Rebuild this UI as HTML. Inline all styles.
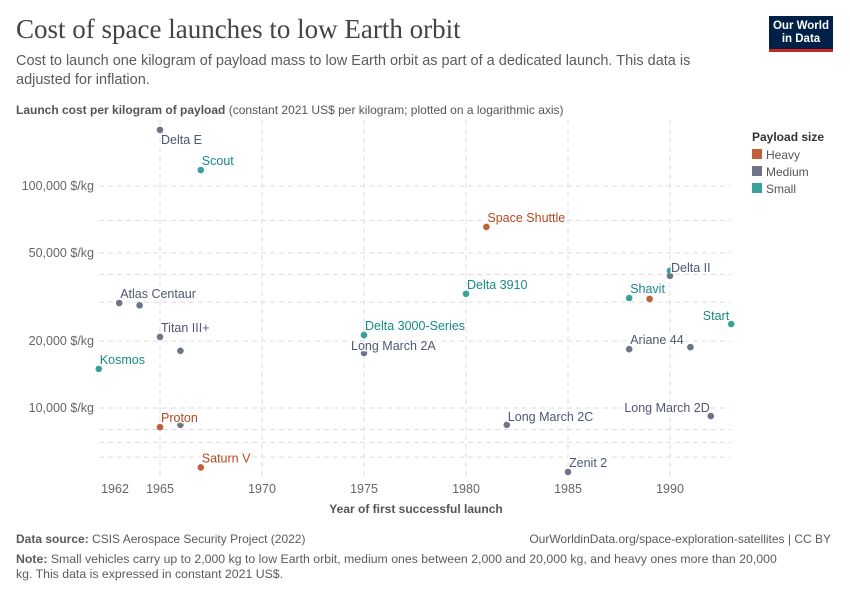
<!DOCTYPE html>
<html><head><meta charset="utf-8"><style>
body{margin:0;width:850px;height:600px;background:#fff;font-family:"Liberation Sans",sans-serif;position:relative;overflow:hidden}
.abs{position:absolute}
</style></head><body>
<div class="abs" style="left:16px;top:14px;font-family:'Liberation Serif',serif;font-size:27px;color:#444;">Cost of space launches to low Earth orbit</div>
<div class="abs" style="left:16px;top:52px;width:720px;font-size:14.5px;line-height:19px;color:#5b5b5b;">Cost to launch one kilogram of payload mass to low Earth orbit as part of a dedicated launch. This data is adjusted for inflation.</div>
<div class="abs" style="left:769px;top:16px;width:64px;height:36px;background:#002147;border-bottom:3px solid #ce261e;box-sizing:border-box;color:#fff;font-size:11.5px;font-weight:bold;text-align:center;line-height:13px;padding-top:4px;">Our World<br>in Data</div>
<div class="abs" style="left:16px;top:103px;font-size:12px;color:#555;"><b>Launch cost per kilogram of payload</b> (constant 2021 US$ per kilogram; plotted on a logarithmic axis)</div>
<svg class="abs" style="left:0;top:0" width="850" height="600">
<g id="grid"></g><g id="marks"></g>
<text x="752" y="141" font-size="12" font-weight="bold" fill="#333">Payload size</text>
<rect x="752" y="149" width="10" height="10" fill="#c15f3a"/><text x="766" y="159" font-size="12" fill="#555">Heavy</text>
<rect x="752" y="166" width="10" height="10" fill="#6d7485"/><text x="766" y="176" font-size="12" fill="#555">Medium</text>
<rect x="752" y="183" width="10" height="10" fill="#39a09a"/><text x="766" y="193" font-size="12" fill="#555">Small</text>
<text x="416" y="513" font-size="12" font-weight="bold" fill="#555" text-anchor="middle">Year of first successful launch</text>
</svg>
<div class="abs" style="left:16px;top:532px;font-size:12px;color:#5b5b5b;"><b>Data source:</b> CSIS Aerospace Security Project (2022)</div>
<div class="abs" style="right:19px;top:532px;font-size:12px;color:#5b5b5b;">OurWorldinData.org/space-exploration-satellites | CC BY</div>
<div class="abs" style="left:16px;top:552px;width:770px;font-size:12.3px;line-height:15px;color:#5b5b5b;"><b>Note:</b> Small vehicles carry up to 2,000 kg to low Earth orbit, medium ones between 2,000 and 20,000 kg, and heavy ones more than 20,000 kg. This data is expressed in constant 2021 US$.</div>
<script>
const names=["Delta E","Scout","Space Shuttle","Delta II","","Delta 3910","Atlas Centaur","","Shavit","","Start","Titan III+","Delta 3000-Series","","Long March 2A","Ariane 44","","Kosmos","Long March 2D","Proton","","Long March 2C","Saturn V","Zenit 2"];
const years=[1965,1967,1981,1990,1990,1980,1963,1964,1988,1989,1993,1965,1975,1966,1975,1988,1991,1962,1992,1965,1966,1982,1967,1985];
const costs=[179000,118000,65400,39400,41500,32700,29700,29000,31300,31000,23900,20900,21300,18100,17700,18400,18800,15000,9200,8200,8400,8400,5400,5150];
const sizes=["M","S","H","M","S","S","M","M","S","H","S","M","S","M","M","M","M","S","M","H","M","M","H","M"];
const yTicks=[100000,50000,20000,10000];
const yGrid=[100000,70000,50000,40000,30000,20000,10000,8000,7000,6000];
const xTicks=[1962,1965,1970,1975,1980,1985,1990];
const col={H:"#c15f3a",M:"#6d7485",S:"#39a09a"};
const tcol={H:"#b5471e",M:"#4e5872",S:"#178a84"};
const X=y=>160+(y-1965)*20.4;
const Y=v=>186-(Math.log10(v)-5)*222;
const NS="http://www.w3.org/2000/svg";
function mk(t,a,p){const e=document.createElementNS(NS,t);for(const k in a)e.setAttribute(k,a[k]);p.appendChild(e);return e;}
const g=document.getElementById('grid'),m=document.getElementById('marks'),lab=mk('g',{},m);
yGrid.forEach(v=>{const l=mk('line',{x1:99,x2:731,y1:Y(v),y2:Y(v),stroke:'#ddd','stroke-dasharray':'5,4'},g);

});
yTicks.forEach(v=>{const t=mk('text',{x:94,y:Y(v)+4,'font-size':12.5,fill:'#666','text-anchor':'end'},g);t.textContent=v.toLocaleString('en-US')+' $/kg';

});
xTicks.forEach(yr=>{if(yr!==1962){const l=mk('line',{x1:X(yr),x2:X(yr),y1:120,y2:480,stroke:'#ddd','stroke-dasharray':'5,4'},g);

}
const t=mk('text',{x:yr===1962?115:X(yr),y:493,'font-size':12.5,fill:'#666','text-anchor':'middle'},g);t.textContent=yr;

});
years.forEach((yr,i)=>{const cx=X(yr),cy=Y(costs[i]);
const c=mk('circle',{cx:cx,cy:cy,r:3.3,fill:col[sizes[i]]},m);


if(names[i]){let tx=cx+1,ty=cy-5,anc='start';
if(names[i]==="Delta E"){ty=cy+14;}
if(names[i]==="Long March 2A"){ty=cy-3;tx=cx-13;}
if(names[i]==="Start"){anc='end';tx=cx-2;ty=cy-4;}
if(names[i]==="Long March 2D"){anc='end';tx=cx-1;ty=cy-4;}
if(names[i]==="Long March 2C"){ty=cy-4;}
if(names[i]==="Delta II"){ty=cy-4;}
const t=mk('text',{x:tx,y:ty,'font-size':12.5,fill:tcol[sizes[i]],'text-anchor':anc,stroke:'#fff','stroke-width':3,'paint-order':'stroke'},lab);t.textContent=names[i];

}});
m.appendChild(lab);
</script>
</body></html>
